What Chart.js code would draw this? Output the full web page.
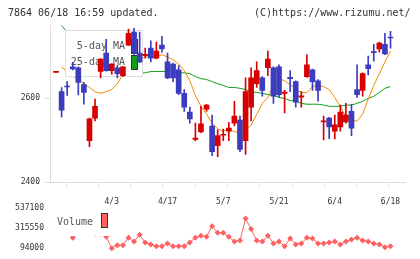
<!DOCTYPE html>
<html>
<head>
<meta charset="utf-8">
<script src="https://cdn.jsdelivr.net/npm/chart.js@4/dist/chart.umd.min.js"></script>
<style>
body{margin:0;background:#fff;width:420px;height:259px;overflow:hidden;position:relative;font-family:"DejaVu Sans Mono",monospace;}
.head{position:absolute;top:7px;font-size:10px;line-height:12px;color:#333;white-space:pre;z-index:2;}
#title{left:8px;}
#copy{left:254px;}
#main{position:absolute;left:0;top:0;}
#vol{position:absolute;left:0;top:190px;}
</style>
</head>
<body>
<div class="head" id="title">7864 06/18 16:59 updated.</div>
<div class="head" id="copy">(C)https://www.rizumu.net/</div>
<canvas id="main" width="420" height="192"></canvas>
<canvas id="vol" width="420" height="69"></canvas>
<script>
var dates = ['3/19','3/23','3/24','3/25','3/26','3/27','3/30','3/31','4/1','4/2',
    '4/3','4/6','4/7','4/8','4/9','4/10','4/13','4/14','4/15','4/16',
    '4/17','4/20','4/21','4/22','4/23','4/24','4/27','4/28','4/30','5/1',
    '5/7','5/8','5/11','5/12','5/13','5/14','5/15','5/18','5/19','5/20',
    '5/21','5/22','5/25','5/26','5/27','5/28','5/29','6/1','6/2','6/3',
    '6/4','6/5','6/8','6/9','6/10','6/11','6/12','6/15','6/16','6/17','6/18'];
var opens = [2662,2616,2629,2675,2673,2633,2499,2553,2664,2708,
    2666,2673,2654,2727,2758,2708,2702,2720,2696,2727,
    2687,2682,2668,2612,2567,2502,2520,2574,2534,2487,
    2512,2522,2541,2548,2499,2579,2635,2649,2673,2673,
    2675,2612,2650,2640,2603,2652,2668,2642,2544,2553,
    2522,2532,2544,2569,2621,2619,2680,2711,2718,2729,2746];
var highs = [2664,2626,2640,2686,2675,2638,2553,2598,2695,2741,
    2683,2678,2676,2765,2767,2758,2720,2737,2734,2748,
    2708,2684,2678,2621,2579,2541,2581,2586,2560,2525,
    2527,2543,2593,2558,2649,2673,2687,2652,2713,2675,
    2680,2619,2666,2642,2616,2704,2670,2645,2558,2555,
    2560,2584,2588,2586,2680,2661,2701,2729,2734,2755,2760];
var lows = [2662,2555,2607,2668,2608,2586,2485,2546,2649,2665,
    2658,2649,2652,2726,2705,2685,2696,2687,2694,2710,
    2647,2640,2609,2569,2541,2499,2518,2569,2463,2461,
    2499,2499,2534,2473,2466,2546,2626,2605,2654,2588,
    2602,2565,2616,2579,2579,2650,2619,2593,2501,2504,
    2503,2522,2541,2511,2602,2605,2656,2689,2710,2704,2720];
var closes = [2664,2572,2627,2670,2638,2614,2551,2581,2694,2666,
    2682,2659,2675,2755,2708,2687,2705,2696,2713,2718,
    2649,2649,2612,2579,2551,2505,2539,2584,2473,2511,
    2514,2529,2558,2478,2616,2649,2666,2619,2694,2605,
    2609,2615,2647,2591,2606,2680,2640,2619,2546,2532,
    2537,2567,2560,2529,2609,2659,2671,2709,2732,2706,2744];
var ma5 = [null,2675,2664,2654,2645,2635,2626,2616,2612,2616,
    2621,2635,2657,2673,2687,2692,2699,2699,2699,2704,
    2699,2692,2682,2666,2642,2607,2581,2562,2541,2527,
    2522,2527,2520,2520,2525,2536,2562,2588,2602,2631,
    2647,2642,2633,2621,2614,2614,2628,2631,2628,2621,
    2602,2581,2555,2546,2546,2562,2598,2631,2659,2687,2713];
var ma25 = [null,2774,2758,2744,2729,2718,2706,2696,2689,2682,
    2678,2673,2668,2666,2664,2661,2661,2664,2664,2664,
    2664,2664,2661,2661,2659,2652,2647,2645,2640,2635,
    2631,2626,2626,2624,2621,2616,2614,2612,2609,2607,
    2602,2600,2595,2593,2588,2586,2586,2586,2584,2581,
    2581,2581,2584,2584,2588,2593,2600,2605,2614,2624,2628];
var volumes = [273000,284000,273000,210000,263000,284000,273000,252000,252000,221000,
    94000,126000,126000,210000,168000,242000,157000,136000,115000,115000,
    147000,115000,115000,115000,157000,210000,231000,221000,337000,263000,
    263000,221000,168000,178000,421000,305000,178000,168000,231000,147000,
    168000,115000,200000,136000,147000,210000,200000,147000,147000,157000,
    168000,136000,168000,189000,210000,178000,168000,147000,136000,105000,115000];
var tickDates = ['4/3','4/17','5/7','5/21','6/4','6/18'];
var priceTicks = [2400, 2600];
var volumeTicks = [94000, 315550, 537100];

var RED = '#d60000', BLUE = '#3c3cbe', ORANGE = '#f08c00', GREEN = '#12a012', VOLC = '#ff6060';
var MONO = '"DejaVu Sans Mono", monospace';
var X_MIN = -1.08, X_MAX = 62.6;

function fixTicks(values) {
    return function (scale) {
        scale.ticks = values.map(function (v) { return {value: v}; });
    };
}
function plain(v) { return String(v); }
function points(arr) {
    var out = [];
    arr.forEach(function (v, i) { if (v !== null) out.push({x: i, y: v}); });
    return out;
}

//- candles -
var colors = closes.map(function (c, i) { return c >= opens[i] ? RED : BLUE; });
var wickData = highs.map(function (h, i) { return {x: i, y: [lows[i], h]}; });
var bodyData = opens.map(function (o, i) { return {x: i, y: [o, closes[i]]}; });

// legend box sits under the candles but over the MA lines
var maLegend = {
    id: 'maLegend',
    beforeDatasetDraw: function (chart, args) {
        if (args.index !== 0) return;
        var ctx = chart.ctx, a = chart.chartArea;
        var x0 = a.left + 15, y0 = a.top + 5, w = 78, h = 47;
        ctx.save();
        ctx.fillStyle = '#fff';
        ctx.fillRect(x0, y0, w, h);
        ctx.strokeStyle = '#ddd';
        ctx.lineWidth = 1;
        ctx.strokeRect(x0 + 0.5, y0 + 0.5, w - 1, h - 1);
        ctx.font = '10px ' + MONO;
        ctx.textAlign = 'right';
        ctx.textBaseline = 'middle';
        [2, 3].forEach(function (di, k) {
            var ds = chart.data.datasets[di];
            var cy = y0 + 16 + k * 16;
            ctx.fillStyle = '#555';
            ctx.fillText(ds.label, x0 + 60, cy);
            ctx.fillStyle = ds.borderColor;
            ctx.fillRect(x0 + 66, cy - 7, 7, 15);
            ctx.strokeStyle = '#333';
            ctx.strokeRect(x0 + 66.5, cy - 6.5, 6, 14);
        });
        ctx.restore();
    }
};

new Chart(document.getElementById('main'), {
    type: 'bar',
    data: {
        datasets: [
            {type: 'bar', label: 'wick', data: wickData, backgroundColor: colors, barThickness: 1, grouped: false, order: 2},
            {type: 'bar', label: 'body', data: bodyData, backgroundColor: colors, barThickness: 5, minBarLength: 1, grouped: false, order: 1},
            {type: 'line', label: '5-day MA', data: points(ma5), borderColor: ORANGE, borderWidth: 1, pointRadius: 0, order: 3},
            {type: 'line', label: '25-day MA', data: points(ma25), borderColor: GREEN, borderWidth: 1, pointRadius: 0, order: 3}
        ]
    },
    options: {
        responsive: false,
        animation: false,
        devicePixelRatio: 1,
        layout: {padding: {top: 25, right: 15, left: 0, bottom: 0}},
        plugins: {legend: {display: false}, tooltip: {enabled: false}},
        scales: {
            x: {type: 'linear', min: X_MIN, max: X_MAX, offset: false, display: false},
            xt: {
                type: 'linear', position: 'bottom', min: 0, max: 11, offset: false,
                afterBuildTicks: function (s) {
                    var t = [];
                    for (var k = 0; k <= 11; k++) t.push({value: k});
                    s.ticks = t;
                },
                ticks: {display: false},
                grid: {drawOnChartArea: false, tickLength: 5, color: '#ddd'},
                border: {color: '#ddd'},
                afterFit: function (s) { s.height = 8; }
            },
            y: {
                min: 2400, max: 2775,
                afterBuildTicks: fixTicks(priceTicks),
                ticks: {font: {family: MONO, size: 8}, color: '#333', padding: 5, callback: plain},
                grid: {drawOnChartArea: false, tickLength: 5, color: '#ddd'},
                border: {color: '#ddd'},
                afterFit: function (s) { s.width = 50; }
            }
        }
    },
    plugins: [maLegend]
});

//- volume -
var volLegend = {
    id: 'volLegend',
    afterDatasetsDraw: function (chart) {
        var ctx = chart.ctx, a = chart.chartArea;
        ctx.save();
        ctx.fillStyle = '#fff';
        ctx.fillRect(a.left, a.top, 62, 28);
        ctx.font = '10px ' + MONO;
        ctx.textAlign = 'right';
        ctx.textBaseline = 'middle';
        ctx.fillStyle = '#555';
        ctx.fillText(chart.data.datasets[0].label, a.left + 43, a.top + 14);
        ctx.fillStyle = VOLC;
        ctx.fillRect(a.left + 51, a.top + 5, 7, 15);
        ctx.strokeStyle = '#333';
        ctx.lineWidth = 1;
        ctx.strokeRect(a.left + 51.5, a.top + 5.5, 6, 14);
        ctx.restore();
    }
};

new Chart(document.getElementById('vol'), {
    type: 'line',
    data: {
        datasets: [{
            label: 'Volume',
            data: points(volumes),
            borderColor: VOLC,
            borderWidth: 1,
            pointStyle: 'rectRot',
            pointRadius: 3,
            pointBackgroundColor: VOLC,
            pointBorderWidth: 0,
            clip: false
        }]
    },
    options: {
        responsive: false,
        animation: false,
        devicePixelRatio: 1,
        layout: {padding: {top: 0, right: 15, left: 0, bottom: 8}},
        plugins: {legend: {display: false}, tooltip: {enabled: false}},
        scales: {
            x: {
                type: 'linear', position: 'top', min: X_MIN, max: X_MAX, offset: false,
                afterBuildTicks: function (s) {
                    s.ticks = tickDates.map(function (d) { return {value: dates.indexOf(d)}; });
                },
                ticks: {font: {family: MONO, size: 8}, color: '#333', padding: 1, maxRotation: 0,
                    callback: function (v) { return dates[v]; }},
                grid: {display: false, drawTicks: false, tickLength: 0},
                border: {display: false},
                afterFit: function (s) { s.height = 18; }
            },
            y: {
                min: 94000, max: 537100,
                afterBuildTicks: fixTicks(volumeTicks),
                ticks: {font: {family: MONO, size: 8}, color: '#333', padding: 6, callback: plain},
                grid: {display: false, drawTicks: false, tickLength: 0},
                border: {display: false},
                afterFit: function (s) { s.width = 50; }
            }
        }
    },
    plugins: [volLegend]
});
</script>
</body>
</html>
